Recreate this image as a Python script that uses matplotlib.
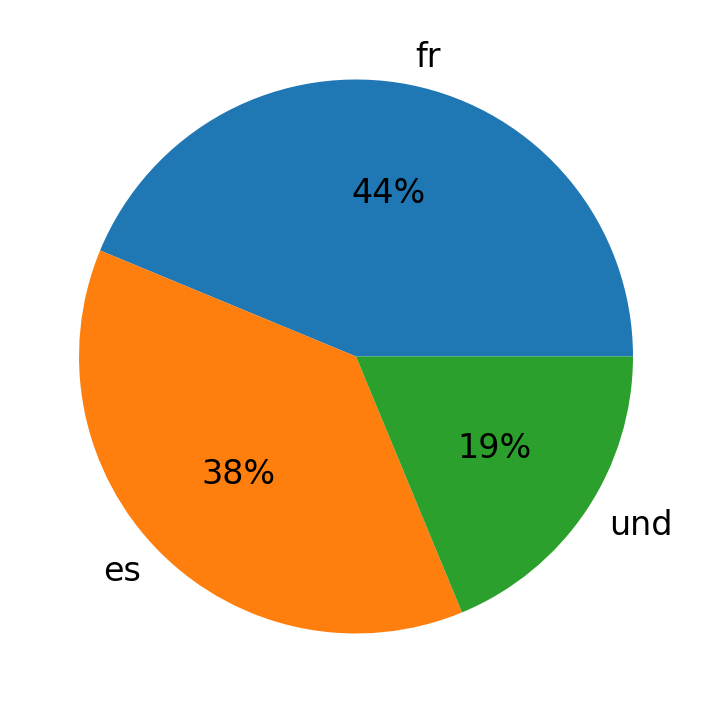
import matplotlib
matplotlib.use("Agg")
import matplotlib.pyplot as plt

labels = ["fr", "es", "und"]
values = [7, 6, 3]

fig = plt.figure(figsize=(7.12, 7.13), dpi=100)
ax = fig.add_axes([0, 0, 1, 1])
ax.pie(values, labels=labels, autopct="%1.0f%%", textprops={"fontsize": 24})
ax.set_aspect("auto")
ax.set_xlim(-356 / 277, 356 / 277)
ax.set_ylim(-356.5 / 277, 356.5 / 277)
ax.axis("off")
fig.savefig("out.png", dpi=100)
